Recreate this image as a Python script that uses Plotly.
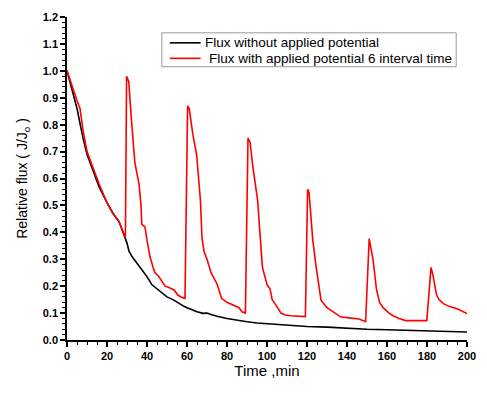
import plotly.graph_objects as go

# Flux without applied potential
t_black = [0, 2, 5, 8, 10, 13, 16, 20, 23, 26, 29, 30, 31, 32.5, 35, 37.5, 40, 42.5, 45, 47,
           50, 53, 55, 58.5, 60, 63, 65, 68, 70, 72, 75, 80, 85, 90, 95, 100, 110, 120, 130,
           140, 150, 160, 170, 180, 190, 200]
f_black = [1.0, 0.94, 0.86, 0.75, 0.69, 0.63, 0.57, 0.51, 0.47, 0.44, 0.38, 0.36, 0.33, 0.31,
           0.285, 0.26, 0.235, 0.205, 0.19, 0.175, 0.16, 0.15, 0.14, 0.125, 0.12, 0.11, 0.105,
           0.099, 0.1, 0.095, 0.088, 0.08, 0.073, 0.068, 0.063, 0.06, 0.055, 0.05, 0.048,
           0.043, 0.04, 0.038, 0.036, 0.034, 0.031, 0.03]

# Flux with applied potential 6 interval time
t_red = [0, 3, 5, 6.5, 8, 10, 13, 16, 20, 23, 26, 29.2, 29.8, 30.9, 32, 33.9, 36, 37, 37.4,
         39, 40, 41.5, 43, 44, 46, 47.2, 49, 51, 53.7, 55.4, 57, 59, 60.3, 61.1, 63, 64.8,
         66.7, 67.5, 68.5, 70, 72, 74.9, 76, 77.3, 80, 84.7, 86, 87.5, 89.2, 90.5, 91.5, 93,
         95.3, 97.7, 99, 100.1, 101.5, 102.6, 104, 105.8, 107, 109.1, 112, 119.2, 120.3,
         121, 122.9, 124.6, 127, 130, 131.9, 134, 136.8, 140, 143.3, 146, 149.3, 151.1, 153,
         154.7, 156.3, 158, 161.2, 163, 166.1, 169.3, 179.9, 182, 183, 184.8, 186, 188, 191,
         195.4, 200]
f_red = [1.0, 0.93, 0.89, 0.86, 0.78, 0.70, 0.64, 0.58, 0.51, 0.47, 0.44, 0.38, 0.98, 0.96,
         0.84, 0.66, 0.58, 0.5, 0.43, 0.42, 0.37, 0.31, 0.27, 0.25, 0.235, 0.22, 0.2, 0.195,
         0.185, 0.167, 0.16, 0.155, 0.87, 0.86, 0.76, 0.69, 0.52, 0.38, 0.33, 0.3, 0.25, 0.21,
         0.18, 0.155, 0.14, 0.123, 0.12, 0.105, 0.10, 0.75, 0.735, 0.64, 0.52, 0.27, 0.23,
         0.204, 0.19, 0.15, 0.135, 0.111, 0.1, 0.093, 0.09, 0.087, 0.56, 0.55, 0.37, 0.27,
         0.148, 0.12, 0.111, 0.1, 0.086, 0.083, 0.08, 0.078, 0.068, 0.377, 0.3, 0.19, 0.14,
         0.12, 0.099, 0.09, 0.08, 0.072, 0.072, 0.27, 0.24, 0.167, 0.15, 0.136, 0.125, 0.115,
         0.098]

series_names = ["Flux without applied potential", "Flux with applied potential 6 interval time"]
series_colors = ["black", "#ff0000"]

x_ticks = [0, 20, 40, 60, 80, 100, 120, 140, 160, 180, 200]
y_ticks = [0.0, 0.1, 0.2, 0.3, 0.4, 0.5, 0.6, 0.7, 0.8, 0.9, 1.0, 1.1, 1.2]

FONT = "Liberation Sans, Arial, sans-serif"

fig = go.Figure()
fig.add_trace(go.Scatter(x=t_black, y=f_black, mode="lines", name=series_names[0],
                         line=dict(color=series_colors[0], width=1.6), showlegend=False))
fig.add_trace(go.Scatter(x=t_red, y=f_red, mode="lines", name=series_names[1],
                         line=dict(color=series_colors[1], width=1.6), showlegend=False))

# Legend drawn as a box in paper coordinates
box_x0, box_x1, box_y0, box_y1 = 0.237, 0.973, 0.846, 0.951
fig.add_shape(type="rect", xref="paper", yref="paper", x0=box_x0, x1=box_x1, y0=box_y0, y1=box_y1,
              line=dict(color="#999999", width=1), fillcolor="white", layer="above")
row_y = [0.920, 0.872]
text_x = [0.34, 0.349]
for name, color, ry, tx in zip(series_names, series_colors, row_y, text_x):
    fig.add_shape(type="line", xref="paper", yref="paper", x0=0.257, x1=0.334, y0=ry, y1=ry,
                  line=dict(color=color, width=1.6), layer="above")
    fig.add_annotation(xref="paper", yref="paper", x=tx, y=ry, text=name, showarrow=False,
                       xanchor="left", yanchor="middle",
                       font=dict(family=FONT, size=13.5, color="black"))

tickfont = dict(family=FONT, size=11, color="black", weight="bold")

fig.update_layout(
    width=487, height=394,
    margin=dict(l=67, r=11, t=16, b=54),
    paper_bgcolor="white", plot_bgcolor="white",
    showlegend=False,
    xaxis=dict(range=[0, 200], tickvals=x_ticks, ticktext=[str(v) for v in x_ticks],
               showgrid=False, zeroline=False, showline=True, linecolor="black", linewidth=1.5,
               ticks="outside", ticklen=5, tickwidth=1.5, tickcolor="black", tickfont=tickfont,
               minor=dict(dtick=5, ticks="outside", ticklen=3, tickwidth=1.2, tickcolor="black"),
               title=dict(text="Time ,min", standoff=5,
                          font=dict(family=FONT, size=15, color="black", weight=400))),
    yaxis=dict(range=[0, 1.2], tickvals=y_ticks, ticktext=[f"{v:.1f}" for v in y_ticks],
               showgrid=False, zeroline=False, showline=True, linecolor="black", linewidth=1.5,
               ticks="outside", ticklen=5, tickwidth=1.5, tickcolor="black", tickfont=tickfont,
               minor=dict(dtick=0.02, ticks="outside", ticklen=3, tickwidth=1.2, tickcolor="black"),
               title=dict(text="Relative flux ( J/J<sub>o</sub> )", standoff=12,
                          font=dict(family=FONT, size=14, color="black", weight=400))),
)

fig.write_html("out.html")
